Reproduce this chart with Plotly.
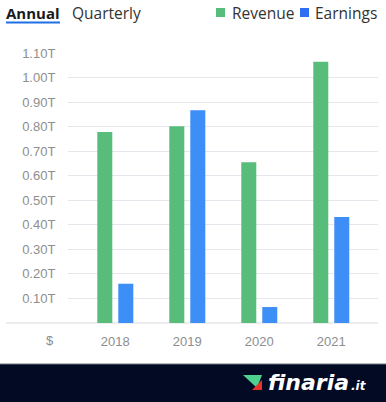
import plotly.graph_objects as go

years = ["2018", "2019", "2020", "2021"]
revenue = [0.778e12, 0.802e12, 0.655e12, 1.064e12]
earnings = [0.160e12, 0.867e12, 0.065e12, 0.432e12]
tick_vals = [0.1e12, 0.2e12, 0.3e12, 0.4e12, 0.5e12, 0.6e12, 0.7e12, 0.8e12, 0.9e12, 1.0e12, 1.1e12]
tick_text = ["0.10T", "0.20T", "0.30T", "0.40T", "0.50T", "0.60T", "0.70T", "0.80T", "0.90T", "1.00T", "1.10T"]

GREEN = "#58BD7B"
BLUE = "#3D8EF7"
W, H = 386, 402
L, R, T, B = 68, 8, 53, 79
PW = W - L - R
PH = H - T - B


def px(x):
    return (x - L) / PW


def py(y):
    return (H - B - y) / PH


fig = go.Figure()
fig.add_trace(go.Bar(x=years, y=revenue, name="Revenue", marker=dict(color=GREEN, line=dict(width=0))))
fig.add_trace(go.Bar(x=years, y=earnings, name="Earnings", marker=dict(color=BLUE, line=dict(width=0))))

shapes = []
# baseline
shapes.append(dict(type="line", xref="paper", yref="paper", x0=px(6), x1=px(378), y0=0, y1=0,
                   line=dict(color="#DCDCE2", width=1.2), layer="below"))
# footer band
shapes.append(dict(type="rect", xref="paper", yref="paper", x0=px(0), x1=px(W), y0=py(364), y1=py(H + 2),
                   fillcolor="#030A24", line=dict(width=0)))
shapes.append(dict(type="line", xref="paper", yref="paper", x0=px(0), x1=px(W), y0=py(364), y1=py(364),
                   line=dict(color="#6F7380", width=1)))


def path(pts):
    return "M " + " L ".join(f"{px(a):.5f},{py(b):.5f}" for a, b in pts) + " Z"


# logo icon
shapes.append(dict(type="path", xref="paper", yref="paper", path=path([(243, 375), (262, 375), (257, 388)]),
                   fillcolor="#4FD08C", line=dict(width=0)))
shapes.append(dict(type="path", xref="paper", yref="paper", path=path([(252, 390), (262, 390), (262, 380)]),
                   fillcolor="#E8322B", line=dict(width=0)))
# header underline
shapes.append(dict(type="line", xref="paper", yref="paper", x0=px(6), x1=px(60), y0=py(22.5), y1=py(22.5),
                   line=dict(color="#1F6FE5", width=2)))
# legend squares
shapes.append(dict(type="rect", xref="paper", yref="paper", x0=px(216), x1=px(225), y0=py(8), y1=py(17),
                   fillcolor=GREEN, line=dict(width=0)))
shapes.append(dict(type="rect", xref="paper", yref="paper", x0=px(300), x1=px(309), y0=py(8), y1=py(17),
                   fillcolor="#2F6EF2", line=dict(width=0)))

HF = "Open Sans, Noto Sans, sans-serif"
ann = []


def text(t, x, y, size, color, family=HF, anchor="left", **kw):
    ann.append(dict(text=t, x=px(x), y=py(y), xref="paper", yref="paper", xanchor=anchor,
                    yanchor="middle", showarrow=False, borderpad=0,
                    font=dict(family=family, size=size, color=color, **kw)))


text("<b>Annual</b>", 5, 12.5, 15, "#1A1A1A")
text("Quarterly", 71, 12.5, 15.5, "#333333")
text("Revenue", 231, 12.5, 15.5, "#333333")
text("Earnings", 314, 12.5, 15.5, "#333333")
text("$", 50, 340.5, 13, "#8E8E8E", family="Liberation Sans, Arial", anchor="center")
text("finaria", 267, 382, 22, "white", family="DejaVu Sans", weight="bold", style="italic")
text(".it", 350, 386, 12, "white", family="DejaVu Sans", weight="bold", style="italic")

fig.update_layout(
    width=W, height=H,
    margin=dict(l=L, r=R, t=T, b=B, pad=0),
    paper_bgcolor="white", plot_bgcolor="white",
    barmode="group", bargap=0.4167, bargroupgap=0.2857,
    showlegend=False,
    shapes=shapes, annotations=ann,
    xaxis=dict(type="category", range=[-0.657, 3.649], showgrid=False, zeroline=False, showline=False,
               ticks="outside", ticklen=6, tickcolor="rgba(0,0,0,0)",
               tickfont=dict(family="Liberation Sans, Arial", size=13, color="#8E8E8E"), fixedrange=True),
    yaxis=dict(range=[0, 1.1e12], tickvals=tick_vals, ticktext=tick_text, showgrid=True,
               gridcolor="#E6E6EC", gridwidth=1, zeroline=False, showline=False,
               ticks="outside", ticklen=9, tickcolor="rgba(0,0,0,0)",
               tickfont=dict(family="Liberation Sans, Arial", size=13, color="#8E8E8E")),
)

fig.write_html("out.html", config={"displayModeBar": False},
               post_script="document.body.style.margin='0px';document.body.style.overflow='hidden';")
